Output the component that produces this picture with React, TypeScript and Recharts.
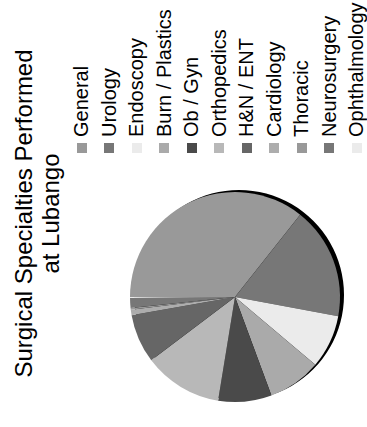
import { PieChart, Pie, Cell, Legend } from 'recharts';

// Surgical case counts by specialty
const specialties = [
  'General',
  'Urology',
  'Endoscopy',
  'Burn / Plastics',
  'Ob / Gyn',
  'Orthopedics',
  'H&N / ENT',
  'Cardiology',
  'Thoracic',
  'Neurosurgery',
  'Ophthalmology',
];
const cases = [256, 124, 59, 59, 59, 87, 54, 6, 2, 11, 1];
const shades = [
  '#999999',
  '#777777',
  '#ebebeb',
  '#aaaaaa',
  '#4a4a4a',
  '#b8b8b8',
  '#666666',
  '#adadad',
  '#999999',
  '#777777',
  '#ebebeb',
];
const titleLines = ['Surgical Specialties Performed', 'at Lubango'];

const W = 427;
const H = 367;
const FONT = '"Liberation Sans", Arial, sans-serif';

const data = specialties.map((name, i) => ({ name, value: cases[i], fill: shades[i] }));

// legend kept in series order (recharts sorts its own payload by name)
function SwatchLegend() {
  return (
    <ul style={{ margin: 0, padding: 0, listStyle: 'none' }}>
      {data.map((d) => (
        <li
          key={d.name}
          style={{ height: 27.5, display: 'flex', alignItems: 'center' }}
        >
          <span
            style={{
              width: 10,
              height: 10,
              background: d.fill,
              marginRight: 6,
              flex: 'none',
            }}
          />
          <span style={{ color: '#000', whiteSpace: 'nowrap' }}>{d.name}</span>
        </li>
      ))}
    </ul>
  );
}

export default function App() {
  // the whole chart is laid out landscape and turned a quarter turn counter-clockwise
  return (
    <div
      style={{
        position: 'absolute',
        left: 0,
        top: 0,
        width: W,
        height: H,
        background: '#fff',
        fontFamily: FONT,
        transformOrigin: '0 0',
        transform: `translateY(${W}px) rotate(-90deg)`,
      }}
    >
      <div
        style={{
          position: 'absolute',
          top: 10,
          left: 0,
          width: W,
          textAlign: 'center',
          fontSize: 24,
          lineHeight: '27px',
          color: '#000',
        }}
      >
        {titleLines.map((t) => (
          <div key={t} style={{ whiteSpace: 'nowrap' }}>{t}</div>
        ))}
      </div>
      <PieChart width={W} height={H} style={{ position: 'absolute', left: 0, top: 0 }}>
        {/* drop shadow behind the pie */}
        <Pie
          data={[{ name: 'shadow', value: 1 }]}
          dataKey="value"
          cx={127}
          cy={234}
          outerRadius={105}
          fill="#000"
          stroke="none"
          legendType="none"
          isAnimationActive={false}
        />
        <Pie
          data={data}
          dataKey="value"
          nameKey="name"
          cx={125}
          cy={230}
          outerRadius={105}
          startAngle={90}
          endAngle={-270}
          stroke="none"
          isAnimationActive={false}
        >
          {data.map((d) => (
            <Cell key={d.name} fill={d.fill} />
          ))}
        </Pie>
        <Legend
          layout="vertical"
          align="right"
          verticalAlign="top"
          content={<SwatchLegend />}
          wrapperStyle={{
            left: 274,
            top: 68,
            right: 'auto',
            bottom: 'auto',
            width: 160,
            fontSize: 20,
            fontFamily: FONT,
          }}
        />
      </PieChart>
    </div>
  );
}
